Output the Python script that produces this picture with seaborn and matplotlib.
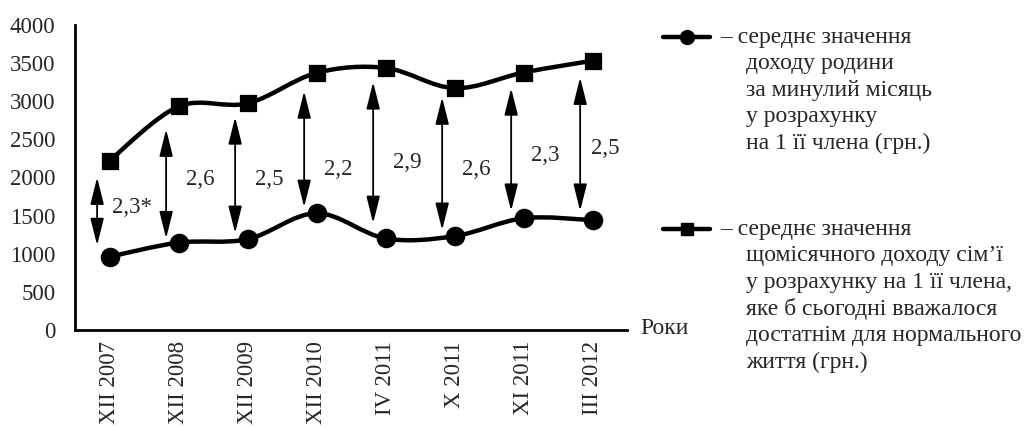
import numpy as np
import pandas as pd
import matplotlib
matplotlib.use('Agg')
import matplotlib.pyplot as plt
import seaborn as sns
from matplotlib.path import Path
from matplotlib.patches import PathPatch
from matplotlib.lines import Line2D

# data
periods = ['XII 2007', 'XII 2008', 'XII 2009', 'XII 2010', 'IV 2011', 'X 2011', 'XI 2011', 'III 2012']
actual_income = [960, 1145, 1190, 1530, 1200, 1230, 1465, 1440]
needed_income = [2220, 2930, 2970, 3370, 3435, 3170, 3375, 3530]
ratio_labels = ['2,3*', '2,6', '2,5', '2,2', '2,9', '2,6', '2,3', '2,5']
arrow_top = [2000, 2630, 2790, 3130, 3250, 3050, 3170, 3310]
arrow_bottom = [1110, 1200, 1270, 1610, 1400, 1310, 1560, 1560]
label_y = [1600, 1970, 1970, 2100, 2190, 2100, 2290, 2380]

legend_lines_1 = ['– середнє значення', 'доходу родини', 'за минулий місяць',
                  'у розрахунку', 'на 1 її члена (грн.)']
legend_lines_2 = ['– середнє значення', 'щомісячного доходу сім’ї',
                  'у розрахунку на 1 її члена,', 'яке б сьогодні вважалося',
                  'достатнім для нормального', 'життя (грн.)']

sns.set_style('white')
plt.rcParams['font.family'] = ['Liberation Serif', 'DejaVu Serif']
plt.rcParams['font.size'] = 16.5

df = pd.DataFrame({'x': np.arange(len(periods)), 'actual': actual_income, 'needed': needed_income})

fig = plt.figure(figsize=(10.28, 4.28), dpi=100)
ax = fig.add_axes([0.073, 0.229, 0.537, 0.713])


def smooth_path(xs, ys):
    # Catmull-Rom style bezier through the points (like Excel "smoothed line")
    pts = np.column_stack([xs, ys]).astype(float)
    ext = np.vstack([pts[0], pts, pts[-1]])
    verts = [tuple(pts[0])]
    codes = [Path.MOVETO]
    for i in range(len(pts) - 1):
        p0, p1, p2, p3 = ext[i], ext[i + 1], ext[i + 2], ext[i + 3]
        c1 = p1 + (p2 - p0) / 6
        c2 = p2 - (p3 - p1) / 6
        verts += [tuple(c1), tuple(c2), tuple(p2)]
        codes += [Path.CURVE4] * 3
    return Path(verts, codes)


for col in ['actual', 'needed']:
    ax.add_patch(PathPatch(smooth_path(df['x'], df[col]), facecolor='none',
                           edgecolor='black', lw=3.2, capstyle='round', zorder=2))

sns.scatterplot(data=df, x='x', y='actual', marker='o', s=170, color='black',
                edgecolor='black', ax=ax, zorder=3)
sns.scatterplot(data=df, x='x', y='needed', marker='s', s=130, color='black',
                edgecolor='black', ax=ax, zorder=3)

# double arrows with ratio labels
for i in range(len(periods)):
    ax.annotate('', xy=(i - 0.18, arrow_top[i]), xytext=(i - 0.18, arrow_bottom[i]),
                arrowprops=dict(arrowstyle='<|-|>,head_length=1.0,head_width=0.25',
                                color='black', lw=1.3, shrinkA=0, shrinkB=0))
    ax.text(i + 0.32 if i < 7 else i + 0.18, label_y[i], ratio_labels[i],
            ha='center', va='center', fontsize=16.5)

ax.set_xlim(-0.5, 7.5)
ax.set_ylim(0, 4000)
ax.set_yticks(range(0, 4001, 500))
ax.set_xticks(np.arange(-0.5, 8, 1))
ax.set_xticklabels([])
ax.set_xticks(np.arange(len(periods)), minor=True)
ax.set_xticklabels(periods, minor=True, rotation=90, fontsize=16.5)
ax.tick_params(axis='x', which='major', direction='out', length=8, width=1.8)
ax.tick_params(axis='x', which='minor', length=0, pad=8)
ax.tick_params(axis='y', direction='out', length=7, width=1.8, labelsize=16.5, pad=7)
ax.set_xlabel('')
ax.set_ylabel('')
sns.despine(ax=ax)
for s in ['left', 'bottom']:
    ax.spines[s].set_linewidth(2)
    ax.spines[s].set_color('black')

fig.text(640 / 1028, 1 - 328 / 428, 'Роки', ha='left', va='center', fontsize=17)

# hand-made legend
for ystart, lines, mk, msz in [(37, legend_lines_1, 'o', 10), (229, legend_lines_2, 's', 9)]:
    fig.add_artist(Line2D([663 / 1028, 710 / 1028], [1 - ystart / 428] * 2, color='black',
                          lw=3.2, transform=fig.transFigure))
    fig.add_artist(Line2D([686.5 / 1028], [1 - ystart / 428], color='black', lw=0,
                          marker=mk, markersize=msz, transform=fig.transFigure))
    for k, line in enumerate(lines):
        xx = 720 if k == 0 else 746
        fig.text(xx / 1028, 1 - (ystart + k * 26.6) / 428, line, ha='left', va='center',
                 fontsize=17)

fig.savefig('out.png', dpi=100, facecolor='white')
